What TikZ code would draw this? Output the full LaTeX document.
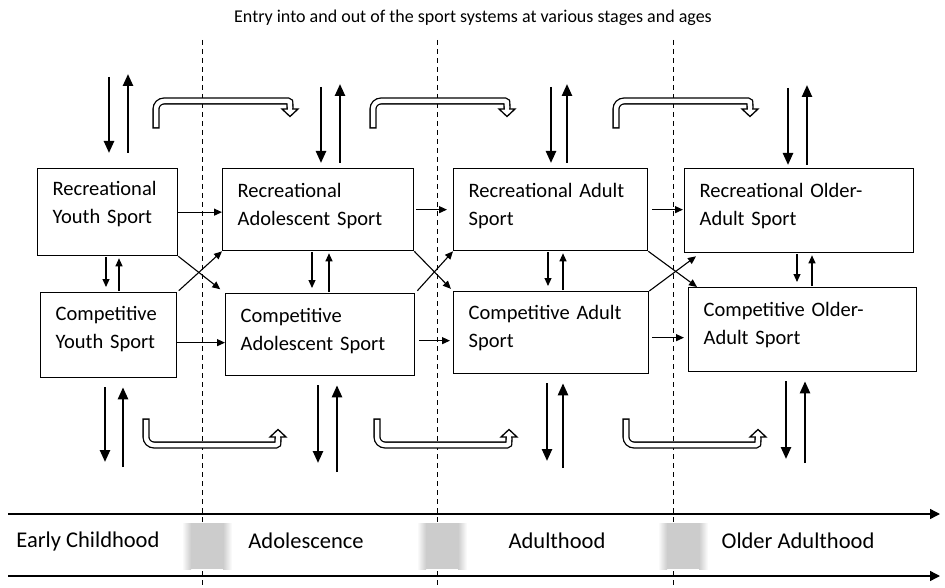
\documentclass[tikz,border=0pt]{standalone}
\usepackage{fontspec}
\setmainfont{Carlito}
\usetikzlibrary{arrows.meta}
\tikzset{box/.style={draw,rectangle,line width=1.3pt,anchor=north west,inner xsep=15pt,inner ysep=0pt,align=left,font=\fontsize{20.5}{27.5}\selectfont},
sarr/.style={line width=1.1pt,-{Triangle[length=8pt,width=7pt]}},
barr/.style={line width=2.4pt,-{Triangle[length=12pt,width=10pt]}},
band/.style={double,double distance=4.5pt,line width=1.3pt,line cap=rect,rounded corners=8pt},
head/.style={line width=1.3pt,fill=white,line join=miter},
tline/.style={line width=1.4pt,-{Triangle[length=10pt,width=10pt]}},
stage/.style={font=\fontsize{22.5}{26}\selectfont},
sep/.style={dashed,line width=1pt,dash pattern=on 5pt off 4pt}}

\begin{document}
\begin{tikzpicture}[x=1pt,y=-1pt]
\useasboundingbox (0,0) rectangle (945,588);
\node[font=\fontsize{18}{20}\selectfont] (title) at (473,18) {Entry into and out of the sport systems at various stages and ages};
% stage borders and gaps
\foreach \x in {202,437,673} \draw[sep] (\x,40) -- (\x,588);
\foreach \x in {207,442,683}{
  \fill[gray!40] (\x-16,523) rectangle (\x+16,569);
  \shade[left color=white,right color=gray!40] (\x-25,523) rectangle (\x-16,569);
  \shade[left color=gray!40,right color=white] (\x+16,523) rectangle (\x+25,569);
}
% sport boxes
\node[box,text width=110pt,text height=27pt,text depth=60pt] (ry) at (37,168) {Recreational\\Youth Sport};
\node[box,text width=106pt,text height=28pt,text depth=57pt] (cy) at (40,292) {Competitive\\Youth Sport};
\node[box,text width=161pt,text height=29pt,text depth=53pt] (ra) at (222,168) {Recreational\\Adolescent Sport};
\node[box,text width=159pt,text height=29pt,text depth=53pt] (ca) at (225,293) {Competitive\\Adolescent Sport};
\node[box,text width=164pt,text height=29pt,text depth=53pt] (rd) at (453,168) {Recreational Adult\\Sport};
\node[box,text width=165pt,text height=28pt,text depth=54pt] (cd) at (453,291) {Competitive Adult\\Sport};
\node[box,text width=199pt,text height=29pt,text depth=55pt] (ro) at (684,168) {Recreational Older-\\Adult Sport};
\node[box,text width=198pt,text height=29pt,text depth=55pt] (co) at (688,287) {Competitive Older-\\Adult Sport};
% moves to the next stage
\draw[sarr] (ry.east) -- (ry.east -| ra.west);
\draw[sarr] ([yshift=-7.5pt]cy.east) -- ([yshift=-7.5pt]cy.east -| ca.west);
\draw[sarr,shorten <=2pt,shorten >=6pt] (ra.east) -- (ra.east -| rd.west);
\draw[sarr,shorten <=4pt,shorten >=3pt] ([yshift=-6pt]ca.east) -- ([yshift=-6pt]ca.east -| cd.west);
\draw[sarr,shorten <=4pt,shorten >=1pt] (rd.east) -- (rd.east -| ro.west);
\draw[sarr,shorten <=3pt,shorten >=4pt] ([yshift=-5pt]cd.east) -- ([yshift=-5pt]cd.east -| co.west);
\draw[sarr,shorten >=6pt] (ry.south east) -- (ca.north west);
\draw[sarr,shorten <=2pt] (cy.north east) -- (ra.south west);
\draw[sarr,shorten >=3pt] (ra.south east) -- (cd.north west);
\draw[sarr,shorten <=3pt] (ca.north east) -- (rd.south west);
\draw[sarr] (rd.south east) -- ([xshift=9pt]co.north west);
\draw[sarr] (cd.north east) -- ([xshift=12pt,yshift=-3pt]ro.south west);
% between recreational and competitive
\foreach \r/\c/\xd/\xu in {ry/cy/106/119,ra/ca/312/329,rd/cd/548/563,ro/co/797/812}{
  \draw[sarr,shorten <=1pt,shorten >=5pt] (\xd,0 |- \r.south) -- (\xd,0 |- \c.north);
  \draw[sarr,shorten <=1pt,shorten >=2pt] (\xu,0 |- \c.north) -- (\xu,0 |- \r.south);
}
% entry and exit
\foreach \b/\xd/\xu/\yt/\gap in {ry/109/128/74/15pt,ra/321/340/84/5pt,rd/551/567/84/5pt,ro/788/807/85/3pt}{
  \draw[barr,shorten >=\gap] (\xd,\yt+3) -- (\xd,0 |- \b.north);
  \draw[barr,shorten <=\gap] (\xu,0 |- \b.north) -- (\xu,\yt);
}
\foreach \b/\xd/\xu/\yd/\yu in {cy/105/123/462/467,ca/318/337/463/472,cd/547/563/461/468,co/786/805/459/463}{
  \draw[barr,shorten <=9pt] (\xd,0 |- \b.south) -- (\xd,\yd);
  \draw[barr,shorten >=9pt] (\xu,\yu) -- (\xu,0 |- \b.south);
}
% staying in sport into the next stage
\foreach \x in {156,373,616}{
  \draw[band] (\x,125) -- (\x,101) -- (\x+124,101) .. controls (\x+134,101) .. (\x+134,109);
  \draw[head] (\x+126,109) -- (\x+142,109) -- (\x+134,116.5) -- cycle;
  \draw[white,line width=4.4pt] (\x+134,107) -- (\x+134,110.5);
}
\foreach \x in {146,377,626}{
  \draw[band] (\x,422) -- (\x,445) -- (\x+122,445) .. controls (\x+132,445) .. (\x+132,437);
  \draw[head] (\x+124,437) -- (\x+140,437) -- (\x+132,429.5) -- cycle;
  \draw[white,line width=4.4pt] (\x+132,439) -- (\x+132,435.5);
}
% life stages
\coordinate (t0) at (8,514);
\coordinate (t1) at (940,514);
\coordinate (b0) at (8,576);
\coordinate (b1) at (940,576);
\draw[tline] (t0) -- (t1);
\draw[tline] (b0) -- (b1);
\node[stage] (ec) at (88,541) {Early Childhood};
\node[stage] (ad) at (306,541) {Adolescence};
\node[stage] (ah) at (557,541) {Adulthood};
\node[stage] (oa) at (798,541) {Older Adulthood};
\end{tikzpicture}
\end{document}
